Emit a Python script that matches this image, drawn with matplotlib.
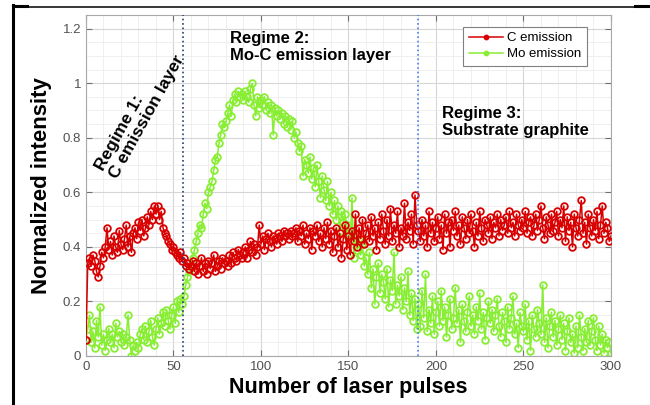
import matplotlib
matplotlib.use('Agg')
import matplotlib.pyplot as plt
import numpy as np
from matplotlib.lines import Line2D
from matplotlib.ticker import MultipleLocator

plt.rcParams['font.family'] = ['Liberation Sans', 'DejaVu Sans']

# Normalized C emission, one value per laser pulse (0..300)
c_emission = [
    0.06, 0.34, 0.36, 0.33, 0.37, 0.35, 0.31, 0.29, 0.33, 0.38,
    0.36, 0.40, 0.47, 0.39, 0.42, 0.37, 0.44, 0.40, 0.38, 0.46,
    0.41, 0.39, 0.43, 0.48, 0.40, 0.44, 0.38, 0.45, 0.47, 0.43,
    0.49, 0.46, 0.50, 0.44, 0.47, 0.51, 0.48, 0.53, 0.50, 0.55,
    0.52, 0.55, 0.50, 0.53, 0.47, 0.45, 0.44, 0.42, 0.41, 0.39,
    0.40, 0.38, 0.37, 0.36, 0.38, 0.35, 0.36, 0.33, 0.34, 0.32,
    0.33, 0.35, 0.31, 0.34, 0.30, 0.33, 0.36, 0.31, 0.34, 0.30,
    0.35, 0.32, 0.34, 0.37, 0.31, 0.33, 0.35, 0.32, 0.36, 0.34,
    0.35, 0.33, 0.37, 0.34, 0.38, 0.36, 0.35, 0.39, 0.37, 0.36,
    0.38, 0.40, 0.36, 0.39, 0.42, 0.38, 0.41, 0.37, 0.40, 0.48,
    0.41, 0.44, 0.39, 0.43, 0.45, 0.42, 0.40, 0.44, 0.43, 0.41,
    0.45, 0.44, 0.42, 0.46, 0.44, 0.45, 0.43, 0.46, 0.44, 0.45,
    0.47, 0.42, 0.46, 0.44, 0.48, 0.41, 0.45, 0.43, 0.47, 0.39,
    0.46, 0.44, 0.48, 0.42, 0.45, 0.40, 0.47, 0.43, 0.49, 0.41,
    0.46, 0.38, 0.44, 0.47, 0.40, 0.45, 0.36, 0.43, 0.48, 0.39,
    0.44, 0.37, 0.46, 0.42, 0.52, 0.40, 0.47, 0.43, 0.50, 0.41,
    0.45, 0.48, 0.42, 0.51, 0.44, 0.47, 0.39, 0.49, 0.43, 0.52,
    0.46, 0.41, 0.50, 0.44, 0.54, 0.42, 0.48, 0.45, 0.53, 0.40,
    0.47, 0.44, 0.56, 0.43, 0.49, 0.46, 0.52, 0.41, 0.59, 0.48,
    0.46, 0.42, 0.50, 0.44, 0.48, 0.40, 0.53, 0.45, 0.49, 0.42,
    0.47, 0.51, 0.43, 0.48, 0.39, 0.52, 0.45, 0.49, 0.40, 0.50,
    0.46, 0.53, 0.44, 0.48, 0.41, 0.51, 0.47, 0.43, 0.50, 0.45,
    0.52, 0.46, 0.40, 0.49, 0.44, 0.53, 0.47, 0.42, 0.50, 0.48,
    0.45, 0.51, 0.43, 0.49, 0.47, 0.52, 0.44, 0.50, 0.46, 0.48,
    0.51, 0.45, 0.53, 0.47, 0.49, 0.44, 0.52, 0.48, 0.46, 0.50,
    0.47, 0.53, 0.45, 0.49, 0.51, 0.44, 0.48, 0.52, 0.46, 0.50,
    0.55, 0.47, 0.43, 0.51, 0.48, 0.45, 0.52, 0.46, 0.49, 0.53,
    0.44, 0.50, 0.47, 0.55, 0.42, 0.51, 0.46, 0.49, 0.40, 0.52,
    0.47, 0.44, 0.50, 0.57, 0.45, 0.49, 0.41, 0.52, 0.47, 0.44,
    0.50, 0.46, 0.53, 0.43, 0.48, 0.55, 0.45, 0.49, 0.47, 0.42,
    0.44,
]

# Normalized Mo emission
mo_emission = [
    0.06, 0.10, 0.15, 0.05, 0.09, 0.03, 0.13, 0.07, 0.18, 0.04,
    0.08, 0.02, 0.06, 0.10, 0.05, 0.08, 0.03, 0.12, 0.07, 0.09,
    0.05, 0.08, 0.04, 0.07, 0.15, 0.06, 0.00, 0.04, 0.02, 0.05,
    0.03, 0.08, 0.10, 0.06, 0.11, 0.05, 0.09, 0.13, 0.07, 0.04,
    0.10, 0.14, 0.08, 0.12, 0.16, 0.11, 0.17, 0.13, 0.10, 0.15,
    0.18, 0.12, 0.20, 0.16, 0.21, 0.19, 0.22, 0.26, 0.29, 0.31,
    0.33, 0.36, 0.39, 0.42, 0.45, 0.48, 0.47, 0.52, 0.56, 0.54,
    0.60, 0.62, 0.64, 0.68, 0.72, 0.73, 0.78, 0.81, 0.85, 0.84,
    0.86, 0.89, 0.92, 0.88, 0.94, 0.96, 0.93, 0.97, 0.95, 0.96,
    0.94, 0.97, 0.95, 0.93, 0.98, 1.00, 0.92, 0.88, 0.95, 0.91,
    0.94, 0.92, 0.95, 0.90, 0.93, 0.89, 0.92, 0.81, 0.91, 0.88,
    0.90, 0.87, 0.89, 0.85, 0.88, 0.84, 0.87, 0.83, 0.86, 0.80,
    0.82, 0.78, 0.75, 0.77, 0.66, 0.72, 0.70, 0.67, 0.73, 0.65,
    0.69, 0.62, 0.70, 0.64, 0.58, 0.66, 0.61, 0.57, 0.64, 0.55,
    0.60, 0.52, 0.57, 0.50, 0.55, 0.46, 0.53, 0.49, 0.52, 0.44,
    0.48, 0.42, 0.58, 0.36, 0.45, 0.39, 0.43, 0.37, 0.41, 0.33,
    0.36, 0.30, 0.38, 0.25, 0.32, 0.19, 0.29, 0.34, 0.23, 0.30,
    0.27, 0.21, 0.32, 0.18, 0.28, 0.24, 0.38, 0.19, 0.26, 0.22,
    0.29, 0.17, 0.25, 0.20, 0.31, 0.15, 0.23, 0.13, 0.21, 0.10,
    0.19, 0.11, 0.24, 0.14, 0.30, 0.09, 0.17, 0.12, 0.22, 0.08,
    0.16, 0.20, 0.11, 0.24, 0.13, 0.18, 0.07, 0.15, 0.21, 0.10,
    0.14, 0.25, 0.12, 0.17, 0.05, 0.19, 0.13, 0.09, 0.16, 0.22,
    0.11, 0.15, 0.08, 0.18, 0.13, 0.23, 0.10, 0.16, 0.06, 0.14,
    0.20, 0.12, 0.17, 0.09, 0.15, 0.21, 0.11, 0.07, 0.16, 0.13,
    0.05, 0.18, 0.10, 0.14, 0.22, 0.08, 0.12, 0.03, 0.16, 0.11,
    0.09, 0.19, 0.06, 0.13, 0.02, 0.15, 0.10, 0.07, 0.17, 0.12,
    0.08, 0.26, 0.05, 0.14, 0.03, 0.11, 0.16, 0.07, 0.13, 0.04,
    0.10, 0.15, 0.06, 0.12, 0.02, 0.09, 0.14, 0.05, 0.08, 0.01,
    0.11, 0.03, 0.15, 0.07, 0.02, 0.10, 0.05, 0.13, 0.04, 0.09,
    0.14, 0.06, 0.02, 0.11, 0.04, 0.08, 0.01, 0.06, 0.03, 0.05,
    0.01,
]

regime_bounds = [55.5, 190]
pulses = np.arange(len(c_emission))

red = '#d80000'
green = '#88ee33'

fig = plt.figure(figsize=(6.5, 4.05), dpi=100)
ax = fig.add_axes([0.1323, 0.121, 0.8077, 0.842])

ax.plot(pulses, c_emission, '-o', color=red, lw=1.1, ms=4.8, mfc='none',
        mew=1.3, label='C emission', zorder=3)
ax.plot(pulses, mo_emission, '-o', color=green, lw=1.1, ms=4.8, mfc='none',
        mew=1.3, label='Mo emission', zorder=2)

ax.axvline(regime_bounds[0], color='#2a3a78', ls=':', lw=1.2, zorder=4)
ax.axvline(regime_bounds[1], color='#4a7df0', ls=':', lw=1.2, zorder=4)

ax.set_xlim(0, 300)
ax.set_ylim(0, 1.25)
ax.set_xticks([0, 50, 100, 150, 200, 250, 300])
ax.set_yticks([0, 0.2, 0.4, 0.6, 0.8, 1.0, 1.2])
ax.set_yticklabels(['0', '0.2', '0.4', '0.6', '0.8', '1', '1.2'])
ax.xaxis.set_minor_locator(MultipleLocator(10))
ax.yaxis.set_minor_locator(MultipleLocator(0.05))
ax.grid(which='major', color='#d6d6d6', lw=0.8)
ax.grid(which='minor', color='#ececec', lw=0.6)
ax.set_axisbelow(True)
ax.tick_params(which='both', direction='in', top=True, right=True,
               colors='#707070', labelcolor='#505050', labelsize=9.5)
ax.tick_params(which='minor', length=0)
ax.tick_params(which='major', length=4)
for s in ax.spines.values():
    s.set_color('#a8a8a8')

ax.set_xlabel('Number of laser pulses', fontsize=15.5, fontweight='bold', labelpad=3)
ax.set_ylabel('Normalized intensity', fontsize=16, fontweight='bold', labelpad=8)

ax.text(31, 0.89, 'Regime 1:\nC emission layer', rotation=61, fontsize=12.5,
        fontweight='bold', ha='center', va='center', rotation_mode='anchor',
        multialignment='left', linespacing=1.1)
ax.text(82.5, 1.19, 'Regime 2:\nMo-C emission layer', fontsize=12,
        fontweight='bold', ha='left', va='top', linespacing=1.15)
ax.text(203.5, 0.915, 'Regime 3:\nSubstrate graphite', fontsize=12,
        fontweight='bold', ha='left', va='top', linespacing=1.15)

leg = ax.legend(loc='upper right', bbox_to_anchor=(0.966, 0.985), fontsize=9.5,
                fancybox=False, framealpha=1, edgecolor='#808080',
                handlelength=2.6, markerscale=0.6, borderpad=0.4,
                labelspacing=0.3, handletextpad=0.3)
leg.get_frame().set_linewidth(0.8)
for h in leg.legend_handles:
    h.set_markerfacecolor(h.get_color())

# black page frame around the figure
W, H = 650, 405
fig.add_artist(Line2D([13 / W, 13 / W], [0, 1 - 5 / H], color='black', lw=2.2))
fig.add_artist(Line2D([13 / W, 635 / W], [1 - 6.5 / H, 1 - 6.5 / H], color='black', lw=1.1))
fig.add_artist(Line2D([13 / W, 27 / W], [1 - 6 / H, 1 - 6 / H], color='black', lw=2.2))
fig.add_artist(Line2D([635 / W, 1], [1 - 6 / H, 1 - 6 / H], color='black', lw=2.2))

fig.savefig('out.png', dpi=100)
